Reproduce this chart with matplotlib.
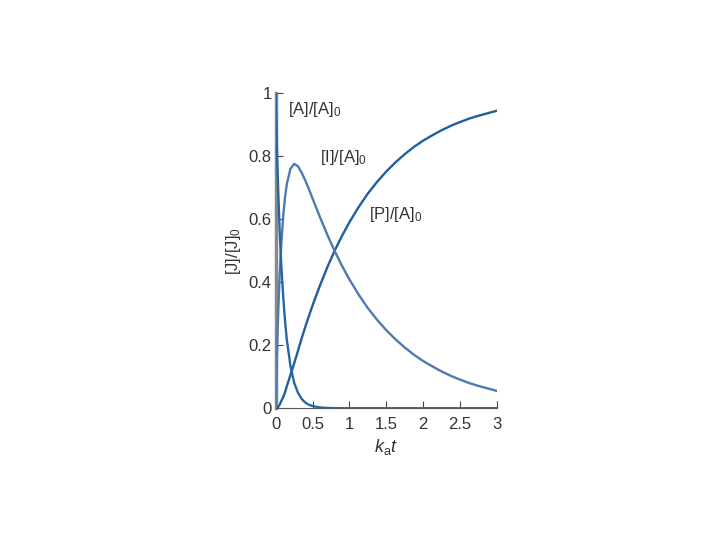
import matplotlib
matplotlib.use("Agg")
import matplotlib.pyplot as plt

# values (x axis is k_a t)
t = [0, 0.01, 0.02, 0.035, 0.05, 0.075, 0.1, 0.125, 0.15, 0.2, 0.25, 0.3, 0.35, 0.4, 0.45, 0.5,
     0.6, 0.7, 0.8, 0.9, 1.0, 1.125, 1.25, 1.375, 1.5, 1.625, 1.75, 1.875, 2.0, 2.125, 2.25,
     2.375, 2.5, 2.625, 2.75, 2.875, 3.0]
conc_A = [1.0, 0.89, 0.79, 0.68, 0.58, 0.455, 0.358, 0.28, 0.218, 0.133, 0.081, 0.050, 0.030,
          0.018, 0.011, 0.007, 0.0025, 0.001, 0.0003, 0.0001, 0.0, 0.0, 0.0, 0.0, 0.0, 0.0, 0.0,
          0.0, 0.0, 0.0, 0.0, 0.0, 0.0, 0.0, 0.0, 0.0, 0.0]
conc_I = [0.0, 0.11, 0.205, 0.315, 0.41, 0.52, 0.607, 0.668, 0.712, 0.761, 0.776, 0.769, 0.749,
          0.724, 0.696, 0.666, 0.607, 0.551, 0.499, 0.452, 0.409, 0.361, 0.318, 0.281, 0.248,
          0.219, 0.193, 0.170, 0.150, 0.133, 0.117, 0.103, 0.091, 0.080, 0.071, 0.063, 0.055]
conc_P = [0.0, 0.0, 0.002, 0.005, 0.010, 0.023, 0.035, 0.050, 0.070, 0.106, 0.143, 0.181, 0.221,
          0.258, 0.293, 0.327, 0.390, 0.448, 0.501, 0.548, 0.591, 0.639, 0.682, 0.719, 0.752,
          0.781, 0.807, 0.830, 0.850, 0.867, 0.883, 0.897, 0.909, 0.920, 0.929, 0.937, 0.945]

xticks = [0, 0.5, 1, 1.5, 2, 2.5, 3]
xtick_labels = ["0", "0.5", "1", "1.5", "2", "2.5", "3"]
yticks = [0, 0.2, 0.4, 0.6, 0.8, 1.0]
ytick_labels = ["0", "0.2", "0.4", "0.6", "0.8", "1"]

plt.rcParams["font.family"] = ["Liberation Sans", "DejaVu Sans"]
plt.rcParams["mathtext.fontset"] = "custom"
plt.rcParams["mathtext.rm"] = "Liberation Sans"
plt.rcParams["mathtext.it"] = "Liberation Sans:italic"

fig = plt.figure(figsize=(7.2, 5.4), dpi=100)
ax = fig.add_axes([0.383, 0.244, 0.307, 0.583])

ax.plot(t, conc_P, color="#1f5f9c", lw=1.7, zorder=3)
ax.plot(t, conc_I, color="#5079b2", lw=1.7, zorder=3)
ax.plot(t, conc_A, color="#2466a6", lw=1.7, zorder=4)

ax.set_xlim(0, 3)
ax.set_ylim(0, 1)
ax.set_xticks(xticks)
ax.set_xticklabels(xtick_labels)
ax.set_yticks(yticks)
ax.set_yticklabels(ytick_labels)
ax.tick_params(direction="in", length=5, width=0.8, colors="#444444",
               labelsize=12, labelcolor="#333333", pad=3)
ax.tick_params(axis="x", pad=6)

for side in ["top", "right"]:
    ax.spines[side].set_visible(False)
ax.spines["left"].set_color("#8a8a8a")
ax.spines["left"].set_linewidth(2.5)
ax.spines["bottom"].set_color("#555555")
ax.spines["bottom"].set_linewidth(0.8)

ax.set_xlabel(r"$k_{\mathrm{a}}t$", fontsize=13, color="#333333", labelpad=4)
ax.set_ylabel(r"[J]/[J]$_0$", fontsize=12, color="#333333", labelpad=4)

ax.text(0.16, 0.95, r"[A]/[A]$_0$", fontsize=12, color="#333333", va="center")
ax.text(0.6, 0.795, r"[I]/[A]$_0$", fontsize=12, color="#333333", va="center")
ax.text(1.27, 0.615, r"[P]/[A]$_0$", fontsize=12, color="#333333", va="center")

fig.savefig("out.png", dpi=100)
